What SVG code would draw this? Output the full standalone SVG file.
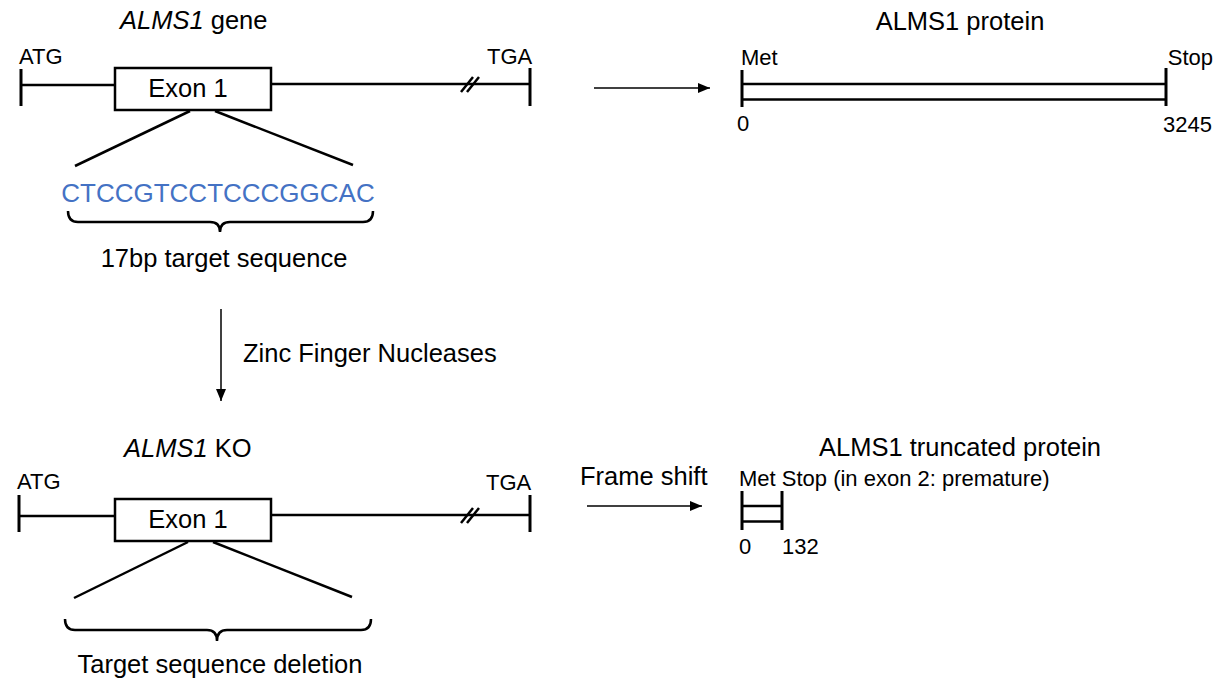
<svg xmlns="http://www.w3.org/2000/svg" width="1220" height="682" viewBox="0 0 1220 682">
<style>
  text { font-family: "Liberation Sans", Arial, sans-serif; fill: #000; }
  .lbl { font-size: 25.5px; }
  .sm { font-size: 22px; }
  .seq { font-size: 26px; fill: #4472C4; }
  .ln { stroke: #000; stroke-width: 2.5; fill: none; }
  .bar { stroke: #000; stroke-width: 3; fill: none; }
  .box { stroke: #000; stroke-width: 2.5; fill: #fff; }
  .arr { stroke: #000; stroke-width: 1.5; fill: none; }
</style>
<defs>
  <marker id="ah" viewBox="0 0 12 10" refX="12" refY="5" markerWidth="12" markerHeight="10" markerUnits="userSpaceOnUse" orient="auto">
    <path d="M0,0 L12,5 L0,10 Z" fill="#000"/>
  </marker>
</defs>

<g id="gene-wt">
  <text class="lbl" x="120" y="29"><tspan font-style="italic">ALMS1</tspan> gene</text>
  <text class="sm" x="19" y="64">ATG</text>
  <text class="sm" x="487" y="64">TGA</text>
  <line class="bar" x1="21" y1="69" x2="21" y2="106"/>
  <line class="bar" x1="530" y1="68" x2="530" y2="106"/>
  <line class="ln" x1="21" y1="85" x2="115" y2="85"/>
  <line class="ln" x1="271" y1="84" x2="530" y2="84"/>
  <line class="ln" x1="461" y1="92" x2="473" y2="77"/>
  <line class="ln" x1="467" y1="92" x2="479" y2="77"/>
  <rect class="box" x="115" y="68" width="156" height="42"/>
  <text class="lbl" x="188" y="97" text-anchor="middle">Exon 1</text>
  <line class="ln" x1="190" y1="111" x2="75" y2="166"/>
  <line class="ln" x1="215" y1="111" x2="353" y2="165"/>
  <text class="seq" x="218" y="202" text-anchor="middle">CTCCGTCCTCCCGGCAC</text>
  <path class="ln" d="M68,211 Q68,222 78,222 L210,222 Q220,222 220,232 Q220,222 230,222 L363,222 Q373,222 373,211"/>
  <text class="lbl" x="224" y="267" text-anchor="middle">17bp target sequence</text>
</g>

<g id="protein-wt">
  <text class="lbl" x="960" y="30" text-anchor="middle">ALMS1 protein</text>
  <text class="sm" x="741" y="65">Met</text>
  <text class="sm" x="1213" y="65" text-anchor="end">Stop</text>
  <line class="bar" x1="742" y1="70" x2="742" y2="107"/>
  <line class="bar" x1="1166" y1="68" x2="1166" y2="106"/>
  <line class="ln" x1="742" y1="84" x2="1166" y2="84"/>
  <line class="ln" x1="742" y1="99.5" x2="1166" y2="99.5"/>
  <text class="sm" x="737" y="131">0</text>
  <text class="sm" x="1212" y="132" text-anchor="end">3245</text>
</g>

<g id="gene-ko">
  <text class="lbl" x="124" y="457"><tspan font-style="italic">ALMS1</tspan> KO</text>
  <text class="sm" x="17" y="489">ATG</text>
  <text class="sm" x="486" y="490">TGA</text>
  <line class="bar" x1="19" y1="495" x2="19" y2="532"/>
  <line class="bar" x1="530" y1="495" x2="530" y2="532"/>
  <line class="ln" x1="19" y1="516" x2="115" y2="516"/>
  <line class="ln" x1="271" y1="515" x2="530" y2="515"/>
  <line class="ln" x1="461" y1="523" x2="473" y2="508"/>
  <line class="ln" x1="467" y1="523" x2="479" y2="508"/>
  <rect class="box" x="115" y="499" width="156" height="42"/>
  <text class="lbl" x="188" y="528" text-anchor="middle">Exon 1</text>
  <line class="ln" x1="188" y1="542" x2="74" y2="598"/>
  <line class="ln" x1="213" y1="542" x2="352" y2="597"/>
  <path class="ln" d="M65,619 Q65,630 75,630 L207,630 Q217,630 217,641 Q217,630 227,630 L361,630 Q371,630 371,619"/>
  <text class="lbl" x="220" y="673" text-anchor="middle">Target sequence deletion</text>
</g>

<g id="protein-trunc">
  <text class="lbl" x="960" y="456" text-anchor="middle">ALMS1 truncated protein</text>
  <text class="sm" x="739" y="486" font-size="23">Met Stop (in exon 2: premature)</text>
  <line class="bar" x1="742" y1="491" x2="742" y2="530"/>
  <line class="bar" x1="782" y1="491" x2="782" y2="530"/>
  <line class="ln" x1="742" y1="506" x2="782" y2="506"/>
  <line class="ln" x1="742" y1="521.5" x2="782" y2="521.5"/>
  <text class="sm" x="739" y="554">0</text>
  <text class="sm" x="782" y="554">132</text>
</g>

<g id="connectors">
  <line class="arr" x1="594" y1="88" x2="710" y2="88" marker-end="url(#ah)"/>
  <line class="arr" x1="221" y1="309" x2="221" y2="401" marker-end="url(#ah)"/>
  <text class="lbl" x="243" y="362">Zinc Finger Nucleases</text>
  <line class="arr" x1="587" y1="506" x2="702" y2="506" marker-end="url(#ah)"/>
  <text class="lbl" x="580" y="485">Frame shift</text>
</g>
</svg>
